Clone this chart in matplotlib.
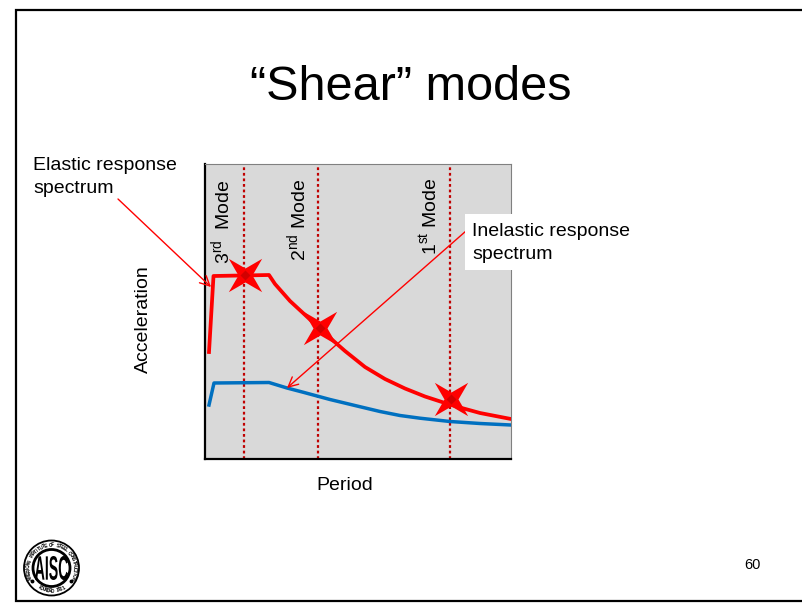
import numpy as np
import matplotlib
matplotlib.use("Agg")
import matplotlib.pyplot as plt
from matplotlib.patches import Circle, Rectangle, PathPatch
from matplotlib.path import Path
from matplotlib.textpath import TextPath
from matplotlib.font_manager import FontProperties
from matplotlib.transforms import Affine2D

plt.rcParams['font.family'] = ['Liberation Sans', 'DejaVu Sans']
plt.rcParams['mathtext.fontset'] = 'custom'
plt.rcParams['mathtext.rm'] = 'Liberation Sans'

## Data
red_period = [4, 8.5, 64, 70, 85, 98, 114, 132, 140, 160, 180, 200, 220, 240, 255, 275, 306]
red_accel = [107, 183, 184, 175, 158, 146, 131, 115, 108, 92, 80, 70.5, 62.5, 56, 51.5, 46, 40]
blue_period = [4, 9, 64, 82, 98, 125, 152, 175, 195, 215, 245, 275, 306]
blue_accel = [54, 76, 76.5, 71, 66.8, 59.5, 53, 47.5, 43.5, 40.8, 37.5, 35.5, 34]
mode_period = [245, 113, 39]
star_period = [245.8, 114.5, 40]
star_accel = [60, 131, 184]
mode_labels = ["1$^{\\mathrm{st}}$ Mode", "2$^{\\mathrm{nd}}$ Mode", "3$^{\\mathrm{rd}}$  Mode"]
ring_top = "AMERICAN INSTITUTE OF STEEL CONSTRUCTION"
ring_bottom = "FOUNDED 1921"

fig = plt.figure(figsize=(8.03, 6.05), dpi=100)

## Chart area, placed by pixel
ax = fig.add_axes([205 / 803, 1 - 459 / 605, 306 / 803, 295 / 605])
ax.set_facecolor("#D9D9D9")
ax.set_xlim(0, 306)
ax.set_ylim(0, 295)
ax.set_xticks([])
ax.set_yticks([])
ax.spines['left'].set_linewidth(1.6)
ax.spines['bottom'].set_linewidth(1.6)
ax.spines['top'].set_color("#808080")
ax.spines['right'].set_color("#808080")
ax.spines['top'].set_linewidth(0.8)
ax.spines['right'].set_linewidth(0.8)

for p in mode_period:
    ax.axvline(p, color="#C00000", lw=1.6, ls=(0, (1.25, 1.25)), zorder=1)

ax.plot(blue_period, blue_accel, color="#0070C0", lw=2.5, solid_joinstyle='round', zorder=2)
ax.plot(red_period, red_accel, color="#FF0000", lw=2.7, solid_joinstyle='round', zorder=3)

star = Path([(1, 1), (0, 0.42), (-1, 1), (-0.42, 0), (-1, -1), (0, -0.42), (1, -1), (0.42, 0), (1, 1)], closed=True)
ax.plot(star_period, star_accel, ls='none', marker=star, ms=24, mfc="#FF0000", mec="none", zorder=4)
ax.plot(star_period, star_accel, ls='none', marker='D', ms=5, mfc="#C00000", mec="none", alpha=0.7, zorder=5)

## Rest of the slide drawn in pixel coordinates
bg = fig.add_axes([0, 0, 1, 1])
bg.set_xlim(0, 803)
bg.set_ylim(605, 0)
bg.axis('off')
bg.patch.set_alpha(0)

bg.plot([803, 16, 16, 803], [10, 10, 601, 601], color="black", lw=1.6, solid_joinstyle='miter')

bg.text(411, 87, "“Shear” modes", fontsize=35, ha='center', va='center')
bg.text(33, 177, "Elastic response\nspectrum", fontsize=14, ha='left', va='center', linespacing=1.42)
bg.text(143, 319, "Acceleration", fontsize=14, rotation=90, ha='center', va='center')
bg.text(345, 486, "Period", fontsize=14, ha='center', va='center')
bg.text(752, 565, "60", fontsize=10.5, ha='center', va='center')

bg.add_patch(Rectangle((465, 214), 172, 56, fc="white", ec="none", zorder=3))
bg.text(472, 243, "Inelastic response\nspectrum", fontsize=14, ha='left', va='center', linespacing=1.42, zorder=4)

for label, x, y in zip(mode_labels, [430, 298, 222], [216, 220, 222]):
    bg.text(x, y, label, fontsize=14, rotation=90, ha='center', va='center', zorder=4)

arrow = dict(arrowstyle="->,head_length=0.7,head_width=0.35", color="#FF0000", lw=1, shrinkA=0, shrinkB=0)
bg.annotate("", xy=(211, 287), xytext=(118, 199), arrowprops=arrow, zorder=2)
bg.annotate("", xy=(287, 388), xytext=(466, 231), arrowprops=arrow, zorder=2)

## AISC seal
cx, cy = 51.5, 568
bg.add_patch(Circle((cx, cy), 27.5, fc="white", ec="black", lw=1.3))
bg.add_patch(Circle((cx, cy), 18.5, fc="white", ec="black", lw=2))
letters = TextPath((0, 0), "AISC", size=10, prop=FontProperties(family="Liberation Sans", weight="bold"))
box = letters.get_extents()
fit = Affine2D().translate(-box.x0 - box.width / 2, -box.y0 - box.height / 2).scale(33 / box.width, -24 / box.height).translate(cx, cy)
bg.add_patch(PathPatch(letters.transformed(fit), fc="black", ec="none"))
angles = np.linspace(205, -25, len(ring_top))
for ch, a in zip(ring_top, angles):
    r = np.radians(a)
    bg.text(cx + 23 * np.cos(r), cy - 23 * np.sin(r), ch, fontsize=3.4, fontweight='bold',
            rotation=a - 90, ha='center', va='center', rotation_mode='anchor')
angles = np.linspace(238, 302, len(ring_bottom))
for ch, a in zip(ring_bottom, angles):
    r = np.radians(a)
    bg.text(cx + 23 * np.cos(r), cy - 23 * np.sin(r), ch, fontsize=3.4, fontweight='bold',
            rotation=a + 90, ha='center', va='center', rotation_mode='anchor')
for a in [214, 326]:
    r = np.radians(a)
    bg.plot(cx + 23 * np.cos(r), cy - 23 * np.sin(r), 'o', color="black", ms=1.8)

fig.savefig("out.png", dpi=100)
